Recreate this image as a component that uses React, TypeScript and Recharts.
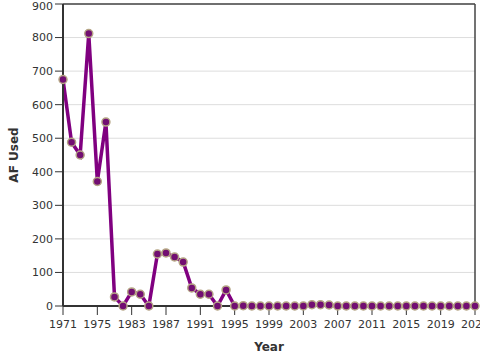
import React from "react";
import { LineChart, Line, XAxis, YAxis, CartesianGrid, ReferenceLine, Label } from "recharts";

const years: string[] = [
  "1971", "1972", "1973", "1974", "1975", "1976", "1977", "1982",
  "1983", "1984", "1985", "1986", "1987", "1988", "1989", "1990",
  "1991", "1992", "1993", "1994", "1995", "1996", "1997", "1998",
  "1999", "2000", "2001", "2002", "2003", "2004", "2005", "2006",
  "2007", "2008", "2009", "2010", "2011", "2012", "2013", "2014",
  "2015", "2016", "2017", "2018", "2019", "2020", "2021", "2022", "2023",
];

const afUsed: number[] = [
  675, 488, 450, 812, 371, 548, 27, 0,
  42, 35, 0, 155, 158, 146, 131, 54,
  35, 35, 0, 48, 0, 1, 0, 0,
  0, 0, 0, 0, 0, 4, 4, 3,
  0, 0, 0, 0, 0, 0, 0, 0,
  0, 0, 0, 0, 0, 0, 0, 0, 0,
];

const yTicks: number[] = [0, 100, 200, 300, 400, 500, 600, 700, 800, 900];

const data = years.map((y, i) => ({ year: y, af: afUsed[i] }));

const font = "DejaVu Sans, Verdana, sans-serif";

export default function App() {
  return (
    <div style={{ position: "absolute", left: 0, top: 0, width: 480, height: 360, overflow: "hidden", background: "#fff" }}>
      <LineChart width={480} height={360} data={data} margin={{ top: 4, right: 5, bottom: 0, left: 0 }}>
        <CartesianGrid horizontal={true} vertical={false} stroke="#dddddd" />
        <XAxis
          dataKey="year"
          interval={3}
          height={54}
          tickSize={9}
          tickMargin={5}
          tick={{ fontSize: 11, fill: "#333", fontFamily: font }}
          axisLine={{ stroke: "#333", strokeWidth: 2 }}
          tickLine={{ stroke: "#333" }}
        >
          <Label
            value="Year"
            position="insideBottom"
            offset={9}
            style={{ fontSize: 12, fontWeight: "bold", fill: "#333", fontFamily: font }}
          />
        </XAxis>
        <YAxis
          domain={[0, 900]}
          ticks={yTicks}
          width={63}
          tickSize={8}
          tick={{ fontSize: 11, fill: "#333", fontFamily: font }}
          axisLine={{ stroke: "#333", strokeWidth: 2 }}
          tickLine={{ stroke: "#333" }}
        >
          <Label
            value="AF Used"
            angle={-90}
            position="insideLeft"
            offset={14}
            style={{ fontSize: 12, fontWeight: "bold", fill: "#333", fontFamily: font, textAnchor: "middle" }}
          />
        </YAxis>
        <ReferenceLine y={900} stroke="#444" strokeWidth={1.5} />
        <ReferenceLine x={years[years.length - 1]} stroke="#444" strokeWidth={1.5} />
        <Line
          type="linear"
          dataKey="af"
          stroke="#800080"
          strokeWidth={3.5}
          isAnimationActive={false}
          dot={{ r: 4, fill: "#720e72", stroke: "#b5a585", strokeWidth: 1.5 }}
        />
      </LineChart>
    </div>
  );
}
